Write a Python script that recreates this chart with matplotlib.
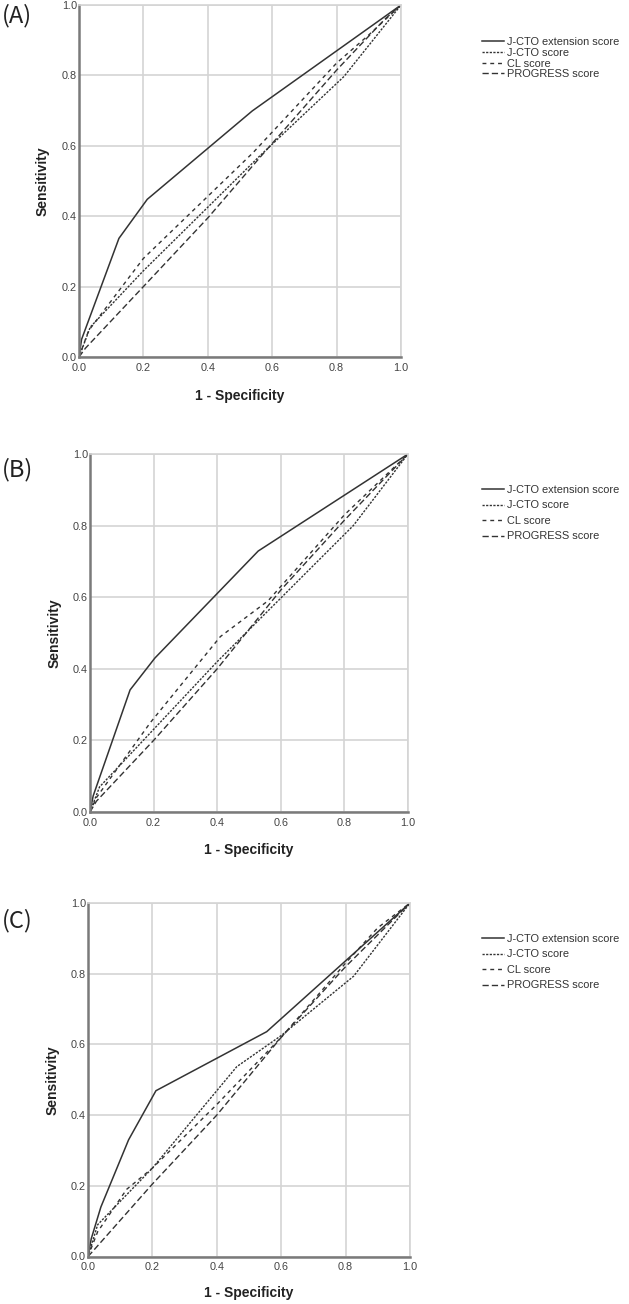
import matplotlib
matplotlib.use("Agg")
import matplotlib.pyplot as plt

# ---------------- data ----------------
series_names = ["J-CTO extension score", "J-CTO score", "CL score", "PROGRESS score"]
panel_labels = ["(A)", "(B)", "(C)"]
tick_values = [0.0, 0.2, 0.4, 0.6, 0.8, 1.0]
tick_labels = ["0.0", "0.2", "0.4", "0.6", "0.8", "1.0"]

# Panel A
a_ext_x = [0, 0.008, 0.124, 0.212, 0.538, 1.0]
a_ext_y = [0, 0.05, 0.337, 0.448, 0.699, 1.0]
a_jcto_x = [0, 0.035, 0.20, 0.56, 0.823, 1.0]
a_jcto_y = [0, 0.085, 0.245, 0.57, 0.797, 1.0]
a_cl_x = [0, 0.03, 0.20, 0.54, 0.80, 0.90, 1.0]
a_cl_y = [0, 0.075, 0.28, 0.58, 0.835, 0.915, 1.0]
a_prog_x = [0, 0.02, 0.20, 0.40, 0.56, 0.80, 0.95, 1.0]
a_prog_y = [0, 0.025, 0.20, 0.395, 0.565, 0.815, 0.96, 1.0]

# Panel B
b_ext_x = [0, 0.01, 0.126, 0.204, 0.529, 1.0]
b_ext_y = [0, 0.045, 0.341, 0.43, 0.729, 1.0]
b_jcto_x = [0, 0.03, 0.40, 0.828, 1.0]
b_jcto_y = [0, 0.07, 0.42, 0.80, 1.0]
b_cl_x = [0, 0.02, 0.19, 0.41, 0.56, 0.80, 1.0]
b_cl_y = [0, 0.04, 0.25, 0.49, 0.59, 0.83, 1.0]
b_prog_x = [0, 0.02, 0.20, 0.40, 0.60, 0.80, 1.0]
b_prog_y = [0, 0.03, 0.20, 0.40, 0.62, 0.815, 1.0]

# Panel C
c_ext_x = [0, 0.01, 0.04, 0.126, 0.211, 0.555, 1.0]
c_ext_y = [0, 0.05, 0.14, 0.33, 0.469, 0.636, 1.0]
c_jcto_x = [0, 0.03, 0.20, 0.462, 0.60, 0.825, 1.0]
c_jcto_y = [0, 0.09, 0.25, 0.537, 0.625, 0.793, 1.0]
c_cl_x = [0, 0.03, 0.12, 0.20, 0.40, 0.60, 0.80, 0.90, 1.0]
c_cl_y = [0, 0.07, 0.19, 0.25, 0.43, 0.62, 0.83, 0.93, 1.0]
c_prog_x = [0, 0.02, 0.20, 0.40, 0.60, 0.80, 1.0]
c_prog_y = [0, 0.02, 0.205, 0.40, 0.62, 0.82, 1.0]

panels = [
    [(a_ext_x, a_ext_y), (a_jcto_x, a_jcto_y), (a_cl_x, a_cl_y), (a_prog_x, a_prog_y)],
    [(b_ext_x, b_ext_y), (b_jcto_x, b_jcto_y), (b_cl_x, b_cl_y), (b_prog_x, b_prog_y)],
    [(c_ext_x, c_ext_y), (c_jcto_x, c_jcto_y), (c_cl_x, c_cl_y), (c_prog_x, c_prog_y)],
]

# ---------------- style ----------------
W, H = 629, 1304
plt.rcParams['font.family'] = ['Liberation Sans', 'DejaVu Sans']
fig = plt.figure(figsize=(W / 100, H / 100), dpi=100)

# axes boxes in pixels: left, right, top, bottom
boxes = [(79, 401, 5, 357), (90, 408, 454, 812), (88, 410, 903, 1256.5)]
ylabel_x = [-0.112, -0.11, -0.109]
xlabel_y = [-0.111, -0.106, -0.103]
label_pos = [(2, 16), (2, 470), (2, 921)]
legend_top = [37, 485, 934]
legend_spacing = [0.07, 0.5, 0.5]

line_color = "#333333"
styles = [
    dict(linestyle="-", linewidth=1.1),
    dict(linestyle=(0, (1.6, 1.0)), linewidth=1.0),
    dict(linestyle=(0, (2.8, 2.8)), linewidth=1.0),
    dict(linestyle=(0, (4.5, 2.2)), linewidth=1.0),
]
grid_color = "#d4d4d4"

for i, (box, data) in enumerate(zip(boxes, panels)):
    l, r, t, b = box
    ax = fig.add_axes([l / W, 1 - b / H, (r - l) / W, (b - t) / H])
    for (xs, ys), name, st in zip(data, series_names, styles):
        ax.plot(xs, ys, color=line_color, label=name, **st)
    ax.set_xlim(0, 1)
    ax.set_ylim(0, 1)
    ax.set_xticks(tick_values)
    ax.set_yticks(tick_values)
    ax.set_xticklabels(tick_labels)
    ax.set_yticklabels(tick_labels)
    ax.tick_params(length=0, labelsize=7.8, labelcolor="#444444")
    ax.tick_params(axis='x', pad=4.0)
    ax.tick_params(axis='y', pad=1.5)
    ax.grid(True, color=grid_color, linewidth=1.2)
    ax.set_axisbelow(True)
    for s in ("top", "right"):
        ax.spines[s].set_color(grid_color)
        ax.spines[s].set_linewidth(1.2)
    for s in ("left", "bottom"):
        ax.spines[s].set_color("#7a7a7a")
        ax.spines[s].set_linewidth(1.8)
    ax.set_ylabel("Sensitivity", fontsize=10, fontweight="bold", color="#222222", va="center")
    ax.yaxis.set_label_coords(ylabel_x[i], 0.5)
    ax.set_xlabel("1 - Specificity", fontsize=10, fontweight="bold", color="#222222", va="center")
    ax.xaxis.set_label_coords(0.5, xlabel_y[i])

    fig.text(label_pos[i][0] / W, 1 - label_pos[i][1] / H, panel_labels[i],
             fontsize=17, va="center", ha="left", color="#222222",
             family=["Noto Sans CJK SC", "DejaVu Sans"])

    ax.legend(loc="upper left", bbox_to_anchor=(482 / W, 1 - legend_top[i] / H),
              bbox_transform=fig.transFigure, frameon=False, fontsize=7.9,
              borderpad=0, borderaxespad=0, handlelength=2.0, handletextpad=0.25,
              labelspacing=legend_spacing[i], labelcolor="#333333")

fig.savefig("out.png", dpi=100)
